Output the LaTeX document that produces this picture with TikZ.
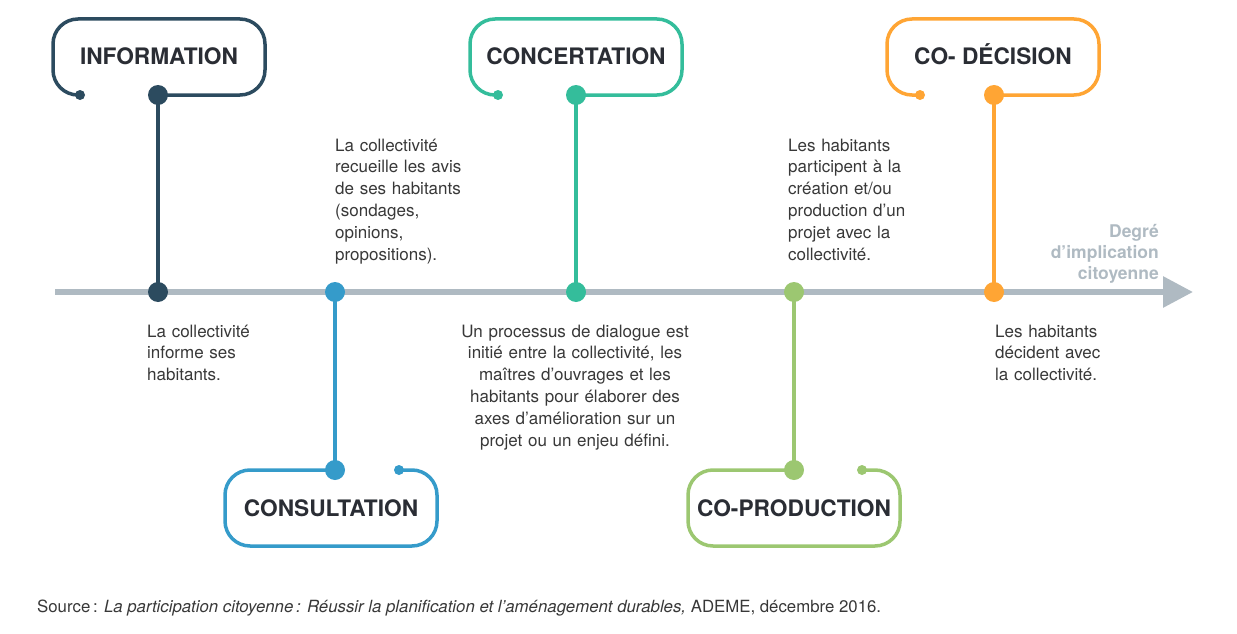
\documentclass[tikz,border=0pt]{standalone}
\usepackage{fontspec}
\setmainfont{TeX Gyre Heros}
\usetikzlibrary{arrows.meta,positioning}

\begin{document}
\begin{tikzpicture}
    [x=1pt,y=-1pt,
    % Styles
    axis line/.style={line width=6pt,axiscolor,-{Triangle[length=30pt,width=30pt]}},
    stage box/.style={line width=3.5pt,rounded corners=25pt},
    stage line/.style={line width=3.5pt},
    stage title/.style={text=titlecolor,font=\fontsize{22.7}{26}\selectfont\bfseries,inner sep=0pt,anchor=base},
    stage text/.style={text=textcolor,font=\fontsize{17}{21.8}\selectfont,inner sep=0pt,text width=260pt}]

    % Colors
    \definecolor{axiscolor}{HTML}{AFBAC2}
    \definecolor{infocolor}{HTML}{2C4B5F}
    \definecolor{consultcolor}{HTML}{359BCA}
    \definecolor{concertcolor}{HTML}{34BD9B}
    \definecolor{prodcolor}{HTML}{9CC771}
    \definecolor{decisioncolor}{HTML}{FFA534}
    \definecolor{titlecolor}{HTML}{2A2D34}
    \definecolor{textcolor}{HTML}{383838}

    \useasboundingbox (0,0) rectangle (1237,634);

    % Axis
    \coordinate (axis start) at (55,292);
    \coordinate (axis end) at (1193,292);
    \draw[axis line] (axis start) -- (axis end);
    \node[stage text,text=axiscolor,font=\fontsize{17.5}{21}\selectfont\bfseries,anchor=base east,align=right,text width=130pt]
      (degree) at (1159,237) {Degré\\d’implication\\citoyenne};

    % Information
    \coordinate (info axis) at (158,292);
    \coordinate (info hook) at (158,95);
    \draw[stage box,infocolor] (80,95) -- (53,95) -- (53,19) -- (265,19) -- (265,95) -- (info hook);
    \draw[stage line,infocolor] (info hook) -- (info axis);
    \fill[infocolor] (80,95) circle[radius=5pt] (info hook) circle[radius=10pt] (info axis) circle[radius=10pt];
    \node[stage title] (info title) at (159,65) {INFORMATION};
    \node[stage text,anchor=base west] (info text) at (147,337) {La collectivité\\informe ses\\habitants.};

    % Consultation
    \coordinate (consult axis) at (335,292);
    \coordinate (consult hook) at (335,470);
    \draw[stage box,consultcolor] (consult hook) -- (225,470) -- (225,546) -- (437,546) -- (437,470) -- (399,470);
    \draw[stage line,consultcolor] (consult axis) -- (consult hook);
    \fill[consultcolor] (399,470) circle[radius=5pt] (consult hook) circle[radius=10pt] (consult axis) circle[radius=10pt];
    \node[stage title] (consult title) at (331,516) {CONSULTATION};
    \node[stage text,anchor=base west] (consult text) at (335,151)
      {La collectivité\\recueille les avis\\de ses habitants\\(sondages,\\opinions,\\propositions).};

    % Concertation
    \coordinate (concert axis) at (576,292);
    \coordinate (concert hook) at (576,95);
    \draw[stage box,concertcolor] (498,95) -- (470,95) -- (470,19) -- (682,19) -- (682,95) -- (concert hook);
    \draw[stage line,concertcolor] (concert hook) -- (concert axis);
    \fill[concertcolor] (498,95) circle[radius=5pt] (concert hook) circle[radius=10pt] (concert axis) circle[radius=10pt];
    \node[stage title] (concert title) at (576,65) {CONCERTATION};
    \node[stage text,anchor=base,align=center] (concert text) at (575,337)
      {Un processus de dialogue est\\initié entre la collectivité, les\\maîtres d’ouvrages et les\\habitants pour élaborer des\\axes d’amélioration sur un\\projet ou un enjeu défini.};

    % Co-production
    \coordinate (prod axis) at (794,292);
    \coordinate (prod hook) at (794,470);
    \draw[stage box,prodcolor] (prod hook) -- (688,470) -- (688,546) -- (900,546) -- (900,470) -- (862,470);
    \draw[stage line,prodcolor] (prod axis) -- (prod hook);
    \fill[prodcolor] (862,470) circle[radius=5pt] (prod hook) circle[radius=10pt] (prod axis) circle[radius=10pt];
    \node[stage title] (prod title) at (794,516) {CO-PRODUCTION};
    \node[stage text,anchor=base west] (prod text) at (788,151)
      {Les habitants\\participent à la\\création et/ou\\production d’un\\projet avec la\\collectivité.};

    % Co-decision
    \coordinate (decision axis) at (994,292);
    \coordinate (decision hook) at (994,95);
    \draw[stage box,decisioncolor] (920,95) -- (887,95) -- (887,19) -- (1099,19) -- (1099,95) -- (decision hook);
    \draw[stage line,decisioncolor] (decision hook) -- (decision axis);
    \fill[decisioncolor] (920,95) circle[radius=5pt] (decision hook) circle[radius=10pt] (decision axis) circle[radius=10pt];
    \node[stage title] (decision title) at (993,65) {CO- DÉCISION};
    \node[stage text,anchor=base west] (decision text) at (995,337)
      {Les habitants\\décident avec\\la collectivité.};

    % Source
    \node[stage text,anchor=base west,text width=,font=\fontsize{16.8}{20}\selectfont] (source) at (37,612)
      {Source\,: \textit{La participation citoyenne\,: Réussir la planification et l’aménagement durables,} ADEME, décembre 2016.};
\end{tikzpicture}
\end{document}
